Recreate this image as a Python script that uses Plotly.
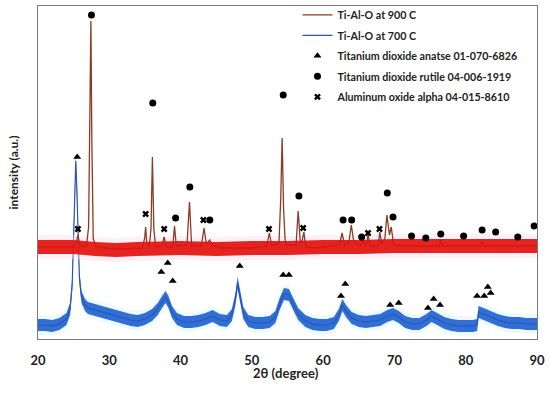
import plotly.graph_objects as go

# ---------------- data ----------------
# Ti-Al-O at 900 C : 2theta (deg) and intensity (a.u.)
tt_900 = [20.0, 25.0, 25.3, 25.6, 25.9, 26.8, 27.1, 27.3, 27.42, 27.55, 27.75, 28.2,
          31.0, 34.6, 34.95, 35.1, 35.25, 35.6, 35.85, 36.05, 36.25, 36.5, 37.4, 37.7,
          38.0, 38.9, 39.15, 39.4, 40.9, 41.25, 41.55, 42.9, 43.3, 43.6, 44.1, 44.4,
          46.0, 50.0, 52.1, 52.45, 52.8, 53.8, 54.05, 54.25, 54.45, 54.7, 56.2, 56.5,
          56.8, 57.05, 57.3, 57.55, 59.0, 62.3, 62.65, 63.0, 63.6, 63.95, 64.3, 65.3,
          65.6, 65.9, 66.1, 66.3, 66.6, 67.7, 67.95, 68.2, 68.65, 68.95, 69.3, 69.55,
          69.9, 71.0, 76.3, 76.5, 76.7, 82.1, 82.3, 82.5, 90.0]
i_900 = [92, 92, 94, 104, 93, 93, 112, 240, 318, 200, 100, 92,
         90, 91, 100, 112, 97, 92, 110, 182, 110, 92, 93, 102,
         92, 92, 113, 93, 94, 137, 93, 93, 111, 95, 99, 93,
         91, 91, 93, 106, 93, 96, 140, 201, 130, 94, 94, 128,
         96, 98, 107, 92, 91, 94, 106, 94, 96, 114, 97, 93,
         100, 93, 96, 104, 93, 93, 107, 95, 100, 124, 104, 112,
         94, 93, 93, 99, 93, 93, 98, 93, 93]
# noise band of the 900 C baseline (centre line + half width)
bg_tt_900 = [20, 25, 28, 31, 34, 40, 45, 50, 55, 60, 65, 70, 75, 80, 85, 90]
bg_900 = [92, 92, 90, 89, 90, 91, 90, 91, 91, 92, 92, 93, 93, 93, 93, 93]
noise_900 = 7

# Ti-Al-O at 700 C
tt_700 = [20.0, 21.0, 22.0, 23.0, 24.0, 24.5, 24.8, 25.0, 25.15, 25.3, 25.45, 25.6,
          25.8, 26.1, 26.6, 27.0, 28.0, 29.0, 30.0, 31.0, 32.0, 33.0, 34.0, 35.0,
          36.0, 36.8, 37.4, 37.9, 38.3, 38.8, 39.5, 40.5, 41.5, 42.5, 43.5, 44.5,
          45.5, 46.5, 47.2, 47.7, 48.0, 48.3, 48.8, 49.5, 50.5, 51.5, 52.5, 53.3,
          53.9, 54.5, 55.2, 55.8, 56.5, 57.5, 58.5, 59.5, 60.5, 61.5, 62.2, 62.7,
          63.2, 64.0, 65.0, 66.0, 67.0, 68.0, 69.0, 69.8, 70.6, 71.5, 72.5, 73.5,
          74.5, 75.2, 76.0, 77.0, 78.0, 79.0, 80.0, 81.0, 81.6, 81.8, 82.5, 83.5,
          84.5, 85.5, 86.5, 87.5, 88.5, 90.0]
i_700 = [14, 14, 13, 15, 20, 30, 55, 105, 160, 178, 150, 100,
         62, 42, 34, 31, 29, 27, 25, 23, 21, 19, 18, 20,
         24, 30, 37, 42, 37, 27, 20, 17, 17, 18, 20, 23,
         19, 18, 24, 40, 56, 44, 26, 18, 16, 16, 17, 22,
         35, 45, 44, 35, 25, 18, 15, 14, 14, 16, 24, 34,
         28, 21, 18, 17, 18, 19, 23, 25, 22, 17, 15, 15,
         19, 23, 20, 16, 14, 13, 13, 13, 14, 27, 25, 22,
         19, 17, 16, 16, 15, 15]
noise_700 = 6

# reference-pattern markers
anatase_tt = [25.5, 37.3, 38.2, 38.9, 48.3, 54.4, 55.2, 62.5, 63.1, 69.4, 70.6,
              74.7, 75.5, 76.4, 81.6, 82.6, 83.1, 83.5]
anatase_i = [182, 67, 76, 58, 73, 64, 64, 43, 55, 34, 36, 31, 40, 34, 43, 43, 52, 46]
rutile_tt = [27.5, 36.1, 39.3, 41.3, 44.1, 54.4, 56.6, 62.8, 64.0, 65.4, 69.0, 69.8,
             72.4, 74.4, 76.5, 79.7, 82.3, 84.2, 87.3, 89.6]
rutile_i = [324, 236, 121, 152, 119, 244, 143, 119, 119, 102, 146, 122,
            103, 101, 105, 103, 109, 107, 102, 113]
alumina_tt = [25.6, 35.1, 37.7, 43.2, 52.4, 57.2, 66.3, 67.9]
alumina_i = [110, 125, 110, 119, 110, 111, 106, 110]

x_ticks = [20, 30, 40, 50, 60, 70, 80, 90]
labels = ["Ti-Al-O at 900 C", "Ti-Al-O at 700 C",
          "Titanium dioxide anatse 01-070-6826",
          "Titanium dioxide rutile 04-006-1919",
          "Aluminum oxide alpha 04-015-8610"]
x_title = "2θ (degree)"
y_title = "intensity (a.u.)"

# ---------------- figure ----------------
FONT = "Lato"
fig = go.Figure()

def band(x, centre, half, color, name):
    fig.add_trace(go.Scatter(x=x, y=[c + half for c in centre], mode="lines",
                             line=dict(width=0), hoverinfo="skip",
                             showlegend=False, name=name + " hi"))
    fig.add_trace(go.Scatter(x=x, y=[c - half for c in centre], mode="lines",
                             line=dict(width=0), fill="tonexty", fillcolor=color,
                             hoverinfo="skip", showlegend=False, name=name + " lo"))

# 700 C pattern
band(tt_700, i_700, noise_700 + 4, "rgba(205,242,255,0.35)", "halo700")
band(tt_700, i_700, noise_700, "#2f6fd6", "band700")
fig.add_trace(go.Scatter(x=tt_700, y=i_700, mode="lines", name=labels[1],
                         line=dict(color="#2c56b0", width=1.2)))

# 900 C pattern
band(bg_tt_900, bg_900, noise_900 + 5, "rgba(255,215,235,0.4)", "halo900")
fig.add_trace(go.Scatter(x=tt_900, y=i_900, mode="lines", name=labels[0],
                         line=dict(color="#8c3a22", width=1.3)))
band(bg_tt_900, bg_900, noise_900, "rgba(226,18,14,0.92)", "band900")

# phase markers
fig.add_trace(go.Scatter(x=anatase_tt, y=anatase_i, mode="markers", name=labels[2],
                         marker=dict(symbol="triangle-up", size=7, color="black")))
fig.add_trace(go.Scatter(x=rutile_tt, y=rutile_i, mode="markers", name=labels[3],
                         marker=dict(symbol="circle", size=7, color="black")))
fig.add_trace(go.Scatter(x=alumina_tt, y=alumina_i, mode="markers", name=labels[4],
                         marker=dict(symbol="x", size=6, color="black",
                                     line=dict(width=0))))

# legend order as in the reference, one group per entry for even spacing
for rank, name in enumerate(labels, start=1):
    fig.update_traces(selector=dict(name=name), legendrank=rank, legendgroup=name)

fig.add_annotation(text=x_title, xref="paper", yref="paper", x=0.497, y=-0.102,
                   xanchor="center", yanchor="middle", showarrow=False,
                   font=dict(family=FONT, size=13, weight="bold", color="#222222"))

fig.update_layout(
    width=550, height=395,
    margin=dict(l=38, r=13, t=6, b=56, autoexpand=False),
    paper_bgcolor="white", plot_bgcolor="white",
    font=dict(family=FONT, color="#222222", size=12, weight="bold"),
    showlegend=True,
    legend=dict(x=0.52, y=1.017, xanchor="left", yanchor="top", traceorder="grouped",
                bgcolor="rgba(0,0,0,0)", borderwidth=0,
                font=dict(family=FONT, size=10.7, color="#222222", weight="bold"),
                tracegroupgap=1.5),
    xaxis=dict(range=[20, 90], tickvals=x_ticks, ticktext=[str(v) for v in x_ticks],
               ticks="", showgrid=False, zeroline=False, ticklabelstandoff=9,
               showline=True, mirror=True, linecolor="#7a7a7a", linewidth=1,
               tickfont=dict(family=FONT, size=13, weight="bold", color="#222222")),
    yaxis=dict(range=[0, 333], showticklabels=False, ticks="", showgrid=False,
               zeroline=False, showline=True, mirror=True, linecolor="#7a7a7a",
               linewidth=1,
               title=dict(text=y_title, standoff=15,
                          font=dict(family=FONT, size=12, weight="bold", color="#222222"))),
)

fig.write_html("out.html", config={"displayModeBar": False},
               post_script="document.body.style.margin='0';")
